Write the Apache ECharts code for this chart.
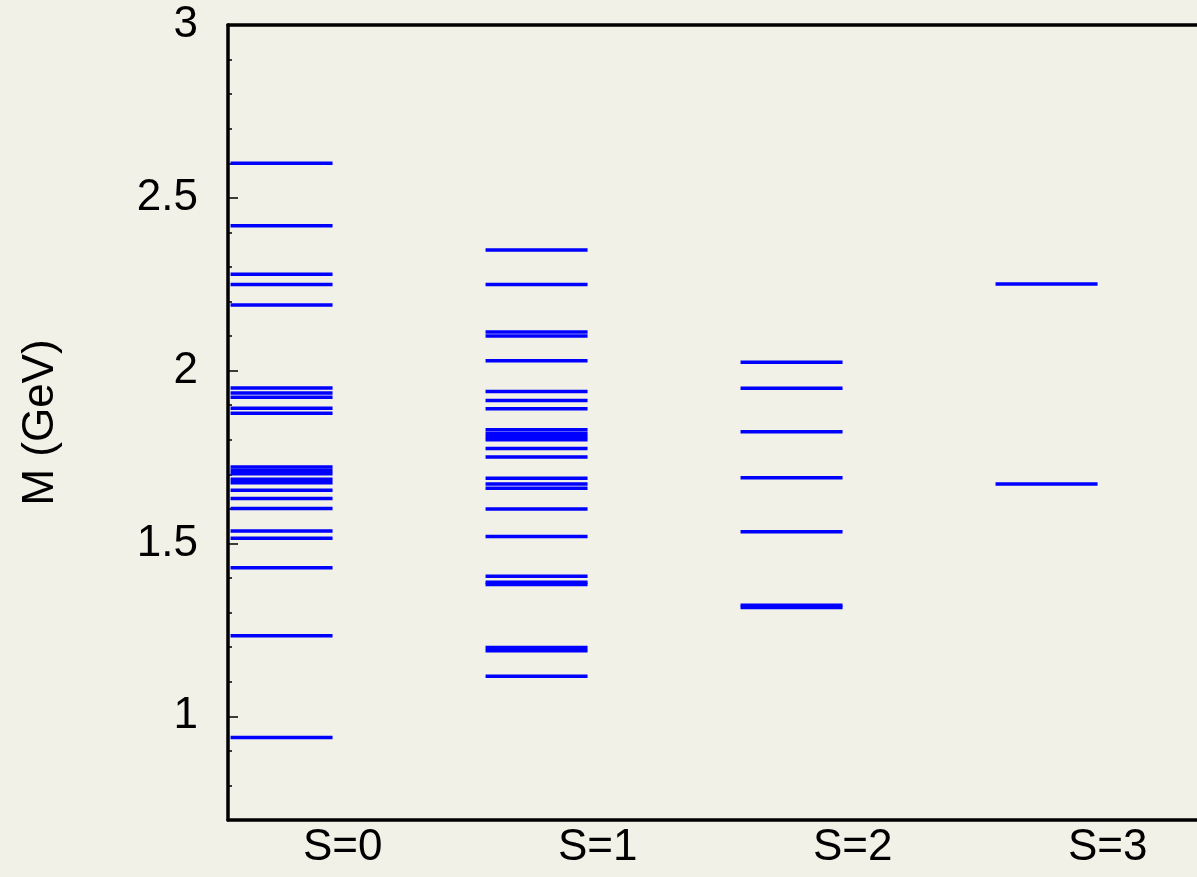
<!DOCTYPE html>
<html>
<head>
<meta charset="utf-8">
<script src="https://cdn.jsdelivr.net/npm/echarts@6/dist/echarts.min.js"></script>
<style>
  html, body { margin: 0; padding: 0; background: #f2f1e7; }
  #main { width: 1197px; height: 877px; }
</style>
</head>
<body>
<div id="main"></div>
<script>
// mass levels (GeV) per strangeness sector
var levelsS0 = [2.600, 2.419, 2.279, 2.249, 2.190, 1.950, 1.935, 1.923, 1.891, 1.877,
                1.721, 1.711, 1.702, 1.686, 1.676, 1.654, 1.630, 1.601, 1.536, 1.515,
                1.430, 1.233, 0.939];
var levelsS1 = [2.349, 2.249, 2.112, 2.100, 2.029, 1.940, 1.914, 1.890, 1.829, 1.818,
                1.809, 1.800, 1.775, 1.750, 1.689, 1.672, 1.660, 1.600, 1.520, 1.405,
                1.388, 1.381, 1.199, 1.190, 1.116];
var levelsS2 = [2.024, 1.949, 1.823, 1.690, 1.534, 1.321, 1.315];
var levelsS3 = [2.251, 1.672];

var sectors = [0, 1, 2, 3];
var sectorLevels = [levelsS0, levelsS1, levelsS2, levelsS3];

var yMajorTicks = [1, 1.5, 2, 2.5, 3];
var yMinorTicks = [0.8, 0.9, 1.1, 1.2, 1.3, 1.4, 1.6, 1.7, 1.8, 1.9,
                   2.1, 2.2, 2.3, 2.4, 2.6, 2.7, 2.8, 2.9];

var points = [];
sectors.forEach(function (s, i) {
    sectorLevels[i].forEach(function (m) { points.push([s, m]); });
});

var dom = document.getElementById('main');
var myChart = echarts.init(dom);

var font = 'Liberation Sans, Arial, Helvetica, sans-serif';

var option = {
    backgroundColor: '#f2f1e7',
    animation: false,
    grid: { left: 228, right: 0, top: 25, bottom: 57 },
    xAxis: [
        {
            type: 'value',
            min: -0.45,
            max: 3.35,
            splitLine: { show: false },
            axisLine: { show: true, onZero: false, lineStyle: { color: '#000', width: 3.5 } },
            axisTick: { show: false },
            axisLabel: {
                customValues: sectors,
                formatter: function (v) { return 'S=' + v; },
                color: '#000',
                fontSize: 44,
                fontFamily: font,
                margin: 6
            }
        },
        {
            type: 'value',
            position: 'top',
            min: -0.45,
            max: 3.35,
            splitLine: { show: false },
            axisLine: { show: true, onZero: false, lineStyle: { color: '#000', width: 3.5 } },
            axisTick: { show: false },
            axisLabel: { show: false }
        }
    ],
    yAxis: [
        {
            type: 'value',
            min: 0.7,
            max: 3,
            name: 'M (GeV)',
            nameLocation: 'middle',
            nameGap: 165,
            nameTextStyle: { color: '#000', fontSize: 44, fontFamily: font },
            splitLine: { show: false },
            axisLine: { show: true, onZero: false, lineStyle: { color: '#000', width: 3.5 } },
            axisTick: {
                show: true,
                inside: true,
                length: 10,
                customValues: yMajorTicks,
                lineStyle: { color: '#000', width: 1.5 }
            },
            axisLabel: {
                customValues: yMajorTicks,
                color: '#000',
                fontSize: 44,
                fontFamily: font,
                margin: 30
            }
        },
        {
            type: 'value',
            position: 'left',
            min: 0.7,
            max: 3,
            splitLine: { show: false },
            axisLine: { show: false, onZero: false },
            axisTick: {
                show: true,
                inside: true,
                length: 4,
                customValues: yMinorTicks,
                lineStyle: { color: '#000', width: 1.5 }
            },
            axisLabel: { show: false }
        }
    ],
    series: [
        {
            type: 'custom',
            xAxisIndex: 0,
            yAxisIndex: 0,
            data: points,
            renderItem: function (params, api) {
                var s = api.value(0), m = api.value(1);
                var a = api.coord([s - 0.44, m]);
                var b = api.coord([s - 0.04, m]);
                return {
                    type: 'line',
                    shape: { x1: a[0], y1: a[1], x2: b[0], y2: b[1] },
                    style: { stroke: '#0000ff', lineWidth: 3.5 }
                };
            }
        }
    ]
};

myChart.setOption(option, true);

window.addEventListener('resize', function () {
    myChart.resize();
});
</script>
</body>
</html>
